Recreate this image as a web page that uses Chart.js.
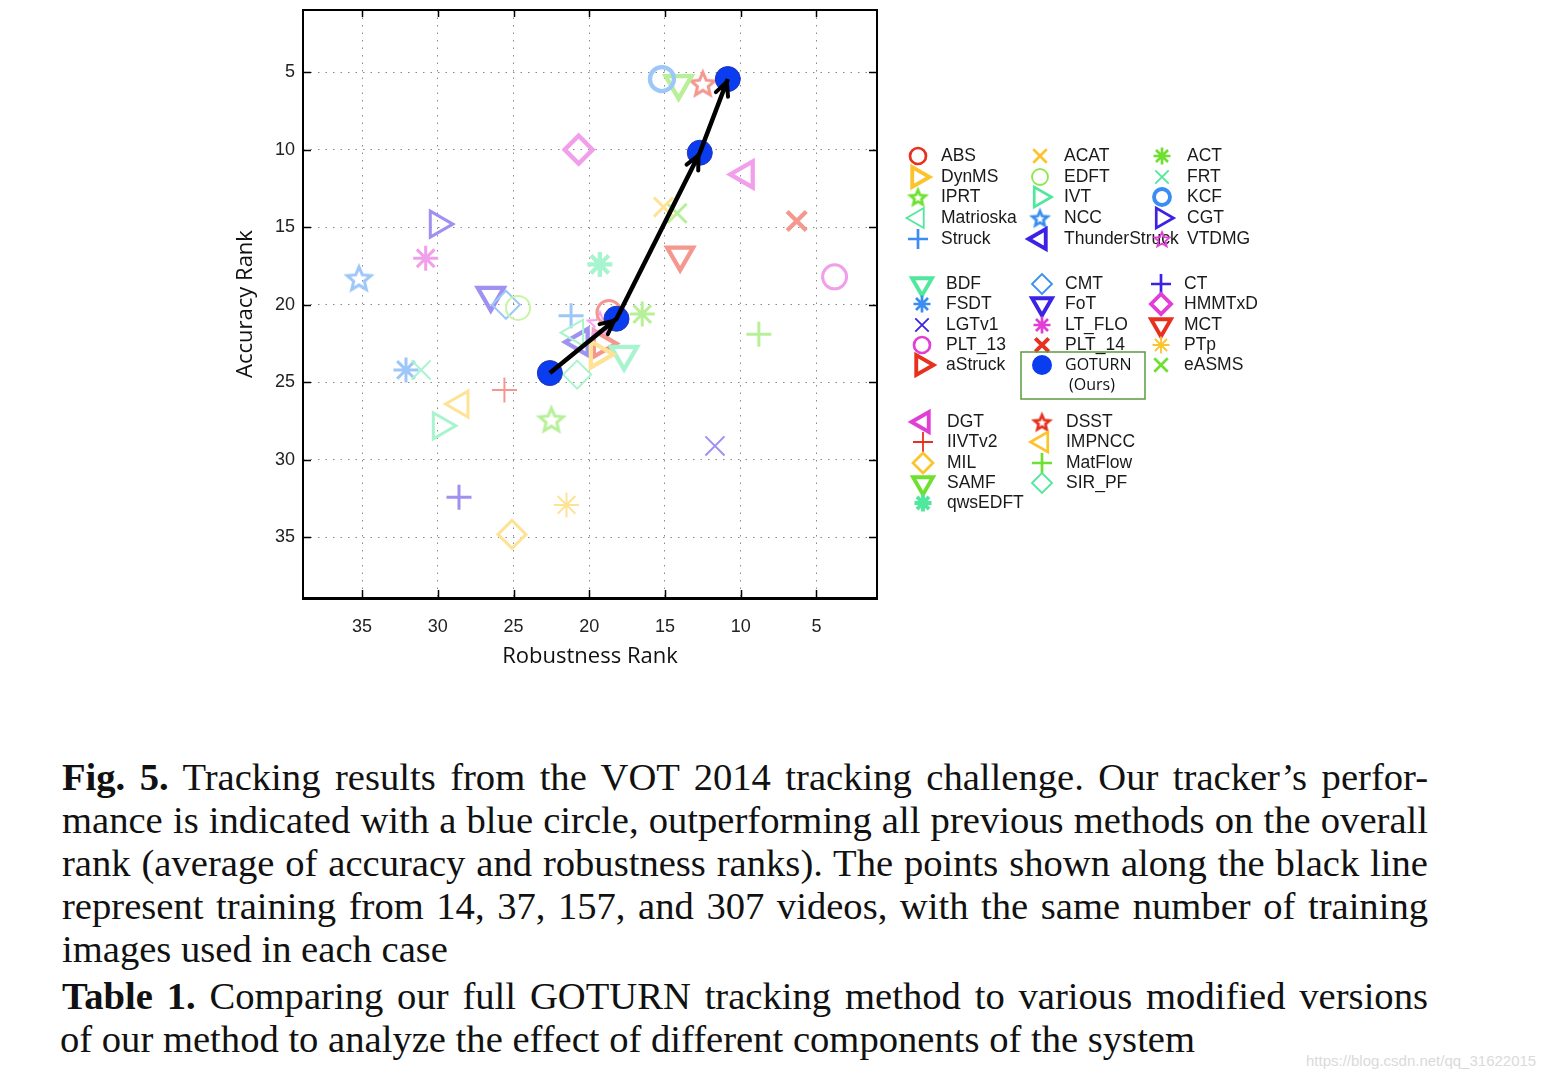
<!DOCTYPE html>
<html>
<head>
<meta charset="utf-8">
<script src="https://cdn.jsdelivr.net/npm/chart.js@4.4.1/dist/chart.umd.min.js"></script>
<style>
  html, body { margin: 0; background: #fff; }
  body { width: 1558px; height: 1078px; position: relative; overflow: hidden; }
  #plot { position: absolute; left: 0; top: 0; }
  .cap { position: absolute; left: 62px; width: 1366px; font-family: "Liberation Serif", serif;
    color: #111; line-height: 1; white-space: nowrap; }
  .cap.just { text-align: justify; text-align-last: justify; white-space: normal; }
  #mark { position: absolute; left: 1306px; top: 1052px; font: 15px "Liberation Sans", sans-serif; color: #dadada; }
</style>
</head>
<body>
<canvas id="plot" width="1558" height="720"></canvas>
<div class="cap just" data-base="790"><b>Fig. 5.</b> Tracking results from the VOT 2014 tracking challenge. Our tracker’s perfor-</div>
<div class="cap just" data-base="833">mance is indicated with a blue circle, outperforming all previous methods on the overall</div>
<div class="cap just" data-base="876">rank (average of accuracy and robustness ranks). The points shown along the black line</div>
<div class="cap just" data-base="919">represent training from 14, 37, 157, and 307 videos, with the same number of training</div>
<div class="cap" data-base="962">images used in each case</div>
<div class="cap just" data-base="1009"><b>Table 1.</b> Comparing our full GOTURN tracking method to various modified versions</div>
<div class="cap" data-base="1052" id="lastLine" style="left:60px">of our method to analyze the effect of different components of the system</div>
<div id="mark">https://blog.csdn.net/qq_31622015</div>
<script>
// VOT 2014 ranks (robustness on x, accuracy on y; lower = better)
const trackers = ['ABS', 'DynMS', 'IPRT', 'Matrioska', 'Struck', 'ACAT', 'EDFT', 'IVT', 'NCC',
  'ThunderStruck', 'ACT', 'FRT', 'KCF', 'CGT', 'VTDMG', 'BDF', 'FSDT', 'LGTv1', 'PLT_13',
  'aStruck', 'CMT', 'FoT', 'LT_FLO', 'PLT_14', 'CT', 'HMMTxD', 'MCT', 'PTp', 'eASMS',
  'DGT', 'IIVTv2', 'MIL', 'SAMF', 'qwsEDFT', 'DSST', 'IMPNCC', 'MatFlow', 'SIR_PF'];
const robustRank = [18.7, 19.4, 22.5, 20.9, 21.2, 15.1, 24.7, 29.8, 35.2,
  20.6, 16.5, 31.1, 15.2, 30.0, 19.3, 17.7, 32.1, 11.7, 3.8,
  19.2, 25.5, 26.5, 30.8, 6.3, 28.6, 20.7, 14.0, 21.5, 14.2,
  9.7, 25.6, 25.1, 14.1, 19.3, 12.5, 28.5, 8.8, 20.8];
const accuracyRank = [20.5, 23.2, 27.4, 21.8, 20.7, 13.7, 20.2, 27.8, 18.3,
  22.4, 20.6, 24.2, 5.45, 14.8, 21.2, 23.2, 24.2, 29.1, 18.2,
  22.5, 20.0, 19.4, 17.0, 14.6, 32.4, 10.0, 16.8, 32.9, 14.1,
  11.6, 25.5, 34.8, 5.75, 17.4, 5.75, 26.4, 21.9, 24.5];

// GOTURN trained on 14, 37, 157 and 307 videos
const goturnRobust = [22.6, 18.2, 12.7, 10.85];
const goturnAccuracy = [24.4, 20.9, 10.2, 5.45];

const robustTicks = [35, 30, 25, 20, 15, 10, 5];
const accuracyTicks = [5, 10, 15, 20, 25, 30, 35];

const legendGroups = [
  ['ABS', 'DynMS', 'IPRT', 'Matrioska', 'Struck', 'ACAT', 'EDFT', 'IVT', 'NCC', 'ThunderStruck',
    'ACT', 'FRT', 'KCF', 'CGT', 'VTDMG'],
  ['BDF', 'FSDT', 'LGTv1', 'PLT_13', 'aStruck', 'CMT', 'FoT', 'LT_FLO', 'PLT_14', 'GOTURN',
    'CT', 'HMMTxD', 'MCT', 'PTp', 'eASMS'],
  ['DGT', 'IIVTv2', 'MIL', 'SAMF', 'qwsEDFT', 'DSST', 'IMPNCC', 'MatFlow', 'SIR_PF']
];

// ---- looks ----
const family = {
  red: '#e8301e', yellow: '#fcc42c', green: '#6ee030', lime: '#8ee84c', mint: '#50e89c',
  blue: '#3a8ef2', navy: '#3c22e4', magenta: '#e23ed6'
};
const WEIGHT = { thin: 2, normal: 3, thick: 4.3 };
const SHAPES = {
  circle: { style: 'circle', rot: 0, r: 12, lr: 8 },
  right: { style: 'triangle', rot: 90, r: 15, lr: 11.5 },
  left: { style: 'triangle', rot: 270, r: 15, lr: 11.5 },
  down: { style: 'triangle', rot: 180, r: 15, lr: 11.5 },
  plus: { style: 'cross', rot: 0, r: 12.5, lr: 10 },
  x: { style: 'crossRot', rot: 0, r: 13.5, lr: 9.5 },
  ast: { style: 'star', rot: 0, r: 12.5, lr: 8.5 },
  diamond: { style: 'rectRot', rot: 0, r: 14, lr: 10 },
  star5: { style: null, rot: 0, r: 12.5, lr: 8 }
};
const look = {
  ABS: ['circle', 'red', 'normal'], DynMS: ['right', 'yellow', 'thick'], IPRT: ['star5', 'green', 'normal'],
  Matrioska: ['left', 'mint', 'thin'], Struck: ['plus', 'blue', 'normal'], ACAT: ['x', 'yellow', 'normal'],
  EDFT: ['circle', 'lime', 'thin'], IVT: ['right', 'mint', 'normal'], NCC: ['star5', 'blue', 'normal'],
  ThunderStruck: ['left', 'navy', 'thick'], ACT: ['ast', 'green', 'normal'], FRT: ['x', 'mint', 'thin'],
  KCF: ['circle', 'blue', 'thick'], CGT: ['right', 'navy', 'normal'], VTDMG: ['star5', 'magenta', 'thin'],
  BDF: ['down', 'mint', 'thick'], FSDT: ['ast', 'blue', 'normal'], LGTv1: ['x', 'navy', 'thin'],
  PLT_13: ['circle', 'magenta', 'normal'], aStruck: ['right', 'red', 'thick'], CMT: ['diamond', 'blue', 'thin'],
  FoT: ['down', 'navy', 'thick'], LT_FLO: ['ast', 'magenta', 'normal'], PLT_14: ['x', 'red', 'thick'],
  CT: ['plus', 'navy', 'normal'], HMMTxD: ['diamond', 'magenta', 'thick'], MCT: ['down', 'red', 'thick'],
  PTp: ['ast', 'yellow', 'thin'], eASMS: ['x', 'green', 'normal'], DGT: ['left', 'magenta', 'thick'],
  IIVTv2: ['plus', 'red', 'thin'], MIL: ['diamond', 'yellow', 'normal'], SAMF: ['down', 'green', 'thick'],
  qwsEDFT: ['ast', 'mint', 'thick'], DSST: ['star5', 'red', 'normal'], IMPNCC: ['left', 'yellow', 'normal'],
  MatFlow: ['plus', 'green', 'normal'], SIR_PF: ['diamond', 'mint', 'thin']
};
const GOTURN_BLUE = '#0a3cf0';

// plot markers are washed-out versions of the legend colours
function fade(hex, k) {
  const n = parseInt(hex.slice(1), 16);
  const ch = [n >> 16, (n >> 8) & 255, n & 255].map(c => Math.round(c * k + 255 * (1 - k)));
  return `rgb(${ch.join(',')})`;
}

// five-point star is not a built-in point style, so draw one as an image
function starImage(color, lw, r) {
  const s = Math.ceil(2 * r + lw + 4);
  const c = document.createElement('canvas');
  c.width = c.height = s;
  const g = c.getContext('2d');
  g.strokeStyle = color;
  g.lineWidth = lw;
  g.beginPath();
  for (let i = 0; i < 10; i++) {
    const rr = i % 2 ? r * 0.45 : r;
    const a = -Math.PI / 2 + i * Math.PI / 5;
    const px = s / 2 + rr * Math.cos(a), py = s / 2 + 1 + rr * Math.sin(a);
    if (i) g.lineTo(px, py); else g.moveTo(px, py);
  }
  g.closePath();
  g.stroke();
  return c;
}

function markerFor(name, legend) {
  const [shape, fam, weight] = look[name];
  const s = SHAPES[shape];
  const color = legend ? family[fam] : fade(family[fam], 0.5);
  const width = WEIGHT[weight] * (legend ? 0.9 : 1);
  const r = legend ? s.lr : s.r;
  return { style: shape === 'star5' ? starImage(color, width, r) : s.style, rot: s.rot, r, color, width };
}

const datasets = [{
  label: 'arrow',
  data: goturnRobust.map((x, i) => ({ x, y: goturnAccuracy[i] })),
  showLine: true, borderColor: '#000', borderWidth: 4.5, pointRadius: 0, order: 0
}, {
  label: 'GOTURN',
  data: goturnRobust.map((x, i) => ({ x, y: goturnAccuracy[i] })),
  pointStyle: 'circle', pointRadius: 12.5, pointBackgroundColor: GOTURN_BLUE,
  pointBorderColor: '#2434b8', pointBorderWidth: 1, order: 1
}];
trackers.forEach((name, i) => {
  const m = markerFor(name, false);
  datasets.push({
    label: name,
    data: [{ x: robustRank[i], y: accuracyRank[i] }],
    pointStyle: m.style, pointRotation: m.rot, pointRadius: m.r,
    pointBorderColor: m.color, pointBackgroundColor: 'rgba(0,0,0,0)', pointBorderWidth: m.width,
    order: 2
  });
});

// MATLAB style box with inward ticks on all four sides
const frame = {
  id: 'frame',
  beforeDatasetsDraw(chart) {
    const { ctx, chartArea: a, scales: { x, y } } = chart;
    ctx.save();
    ctx.strokeStyle = '#000';
    ctx.lineWidth = 1.5;
    ctx.beginPath();
    robustTicks.forEach(v => {
      const px = Math.round(x.getPixelForValue(v)) + 0.5;
      ctx.moveTo(px, a.top); ctx.lineTo(px, a.top + 7);
      ctx.moveTo(px, a.bottom); ctx.lineTo(px, a.bottom - 8);
    });
    accuracyTicks.forEach(v => {
      const py = Math.round(y.getPixelForValue(v)) + 0.5;
      ctx.moveTo(a.left, py); ctx.lineTo(a.left + 8, py);
      ctx.moveTo(a.right, py); ctx.lineTo(a.right - 8, py);
    });
    ctx.stroke();
    ctx.lineWidth = 2;
    ctx.strokeRect(a.left, a.top, a.right - a.left, a.bottom - a.top);
    ctx.lineWidth = 3;
    ctx.beginPath();
    ctx.moveTo(a.left - 1, a.bottom + 0.5); ctx.lineTo(a.right + 1, a.bottom + 0.5);
    ctx.stroke();
    ctx.restore();
  }
};

// open arrow heads at each GOTURN point along the black line
const arrows = {
  id: 'arrows',
  afterDatasetsDraw(chart) {
    const pts = chart.getDatasetMeta(0).data;
    const ctx = chart.ctx;
    ctx.save();
    ctx.strokeStyle = '#000';
    ctx.lineWidth = 4;
    ctx.lineCap = 'round';
    for (let i = 1; i < pts.length; i++) {
      const p0 = pts[i - 1], p1 = pts[i];
      const ang = Math.atan2(p1.y - p0.y, p1.x - p0.x);
      const tx = p1.x - 3 * Math.cos(ang), ty = p1.y - 3 * Math.sin(ang);
      ctx.beginPath();
      [-0.45, 0.45].forEach(d => {
        ctx.moveTo(tx, ty);
        ctx.lineTo(tx - 15 * Math.cos(ang + d), ty - 15 * Math.sin(ang + d));
      });
      ctx.stroke();
    }
    ctx.restore();
  }
};

const legendLayout = [
  { rows: [156, 177, 197, 218, 239], mx: [918, 1040, 1162], tx: [941, 1064, 1187] },
  { rows: [284, 304, 325, 345, 365], mx: [922, 1042, 1161], tx: [946, 1065, 1184] },
  { rows: [422, 442, 463, 483, 503], mx: [923, 1042], tx: [947, 1066] }
];
const legendBlock = {
  id: 'legendBlock',
  afterDraw(chart) {
    const ctx = chart.ctx;
    ctx.save();
    ctx.textBaseline = 'middle';
    legendGroups.forEach((names, g) => {
      const L = legendLayout[g];
      names.forEach((name, k) => {
        const col = Math.floor(k / 5), row = k % 5;
        const mx = L.mx[col], my = L.rows[row], tx = L.tx[col];
        if (name === 'GOTURN') {
          ctx.strokeStyle = '#5c9a40'; ctx.lineWidth = 1.5;
          ctx.strokeRect(1021, 352, 124, 47);
          ctx.fillStyle = GOTURN_BLUE;
          ctx.beginPath(); ctx.arc(mx, my, 10, 0, Math.PI * 2); ctx.fill();
          ctx.fillStyle = '#111';
          ctx.font = '16px "Open Sans"';
          ctx.textAlign = 'left';
          ctx.fillText('GOTURN', tx, my);
          ctx.textAlign = 'center';
          ctx.fillText('(Ours)', 1092, my + 20);
          return;
        }
        const m = markerFor(name, true);
        ctx.strokeStyle = m.color; ctx.fillStyle = 'rgba(0,0,0,0)'; ctx.lineWidth = m.width;
        Chart.helpers.drawPoint(ctx, { pointStyle: m.style, rotation: m.rot, radius: m.r, borderWidth: m.width }, mx, my);
        ctx.fillStyle = '#1a1a1a';
        ctx.font = '17.5px "Liberation Sans"';
        ctx.textAlign = 'left';
        ctx.fillText(name, tx, my);
      });
    });
    ctx.restore();
  }
};

new Chart(document.getElementById('plot'), {
  type: 'scatter',
  data: { datasets },
  plugins: [frame, arrows, legendBlock],
  options: {
    responsive: false, animation: false, events: [],
    layout: { autoPadding: false, padding: { left: 233, top: 10, right: 681, bottom: 0 } },
    plugins: { legend: { display: false }, tooltip: { enabled: false } },
    scales: {
      x: {
        type: 'linear', reverse: true, min: 1, max: 38.9,
        afterBuildTicks: s => { s.ticks = robustTicks.map(v => ({ value: v })); },
        afterFit: s => { s.height = 122; s.paddingLeft = 0; s.paddingRight = 0; },
        grid: { color: '#8a8a8a', lineWidth: 1, drawTicks: false },
        border: { display: false, dash: [1.5, 6] },
        ticks: { color: '#222', padding: 18, font: { family: 'Liberation Sans', size: 18 } },
        title: { display: true, text: 'Robustness Rank', color: '#111',
          font: { family: 'Open Sans', size: 22 }, padding: { top: 0, bottom: 50 } }
      },
      y: {
        type: 'linear', reverse: true, min: 1, max: 38.9,
        afterBuildTicks: s => { s.ticks = accuracyTicks.map(v => ({ value: v })); },
        afterFit: s => { s.width = 70; s.paddingTop = 0; s.paddingBottom = 0; },
        grid: { color: '#8a8a8a', lineWidth: 1, drawTicks: false },
        border: { display: false, dash: [1.5, 6] },
        ticks: { color: '#222', padding: 8, font: { family: 'Liberation Sans', size: 18 } },
        title: { display: true, text: 'Accuracy Rank', color: '#111',
          font: { family: 'Open Sans', size: 22 }, padding: { top: 0, bottom: 0 } }
      }
    }
  }
});

// caption: size the serif text so the last line spans like the original
(function () {
  const m = document.createElement('canvas').getContext('2d');
  m.font = '100px "Liberation Serif"';
  const w = m.measureText(document.getElementById('lastLine').textContent).width;
  let size = 1172 / w * 100;
  document.querySelectorAll('.cap.just').forEach(d => {
    let tw = 0;
    d.childNodes.forEach(n => {
      m.font = (n.nodeName === 'B' ? 'bold ' : '') + '100px "Liberation Serif"';
      tw += m.measureText(n.textContent).width;
    });
    size = Math.min(size, 1360 / tw * 100);
  });
  document.querySelectorAll('.cap').forEach(d => {
    d.style.fontSize = size + 'px';
    d.style.top = (+d.dataset.base - 0.8375 * size) + 'px';
  });
})();
</script>
</body>
</html>
